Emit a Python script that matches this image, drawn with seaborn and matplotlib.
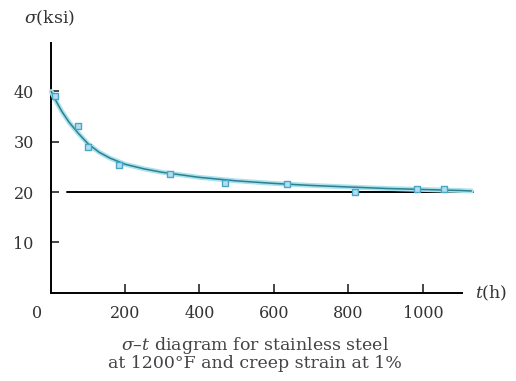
import matplotlib
matplotlib.use("Agg")
import matplotlib.pyplot as plt
import numpy as np
import pandas as pd
import seaborn as sns

# measured points (hours, ksi)
T_DATA = [12, 74, 101, 184, 321, 468, 635, 817, 984, 1056]
S_DATA = [39.0, 33.1, 28.9, 25.3, 23.6, 21.8, 21.6, 20.0, 20.6, 20.6]

# fitted curve
T_CURVE = [2, 15, 30, 50, 75, 100, 130, 160, 200, 250, 300, 400, 500, 600,
           700, 800, 900, 1000, 1100, 1130]
S_CURVE = [39.9, 38.0, 36.0, 33.8, 31.6, 29.6, 27.9, 26.7, 25.5, 24.6, 23.9,
           22.9, 22.2, 21.7, 21.3, 21.0, 20.7, 20.5, 20.3, 20.2]

ASYMPTOTE = 20
X_TICKS = [200, 400, 600, 800, 1000]
Y_TICKS = [10, 20, 30, 40]

sns.set_style("white")
plt.rcParams["font.family"] = ["DejaVu Serif"]
plt.rcParams["mathtext.fontset"] = "dejavuserif"

fig = plt.figure(figsize=(5.16, 3.81), dpi=100)
ax = fig.add_axes([0.0979, 0.231, 0.7975, 0.656])

curve = pd.DataFrame({"t": T_CURVE, "s": S_CURVE})
pts = pd.DataFrame({"t": T_DATA, "s": S_DATA})

ax.plot([44, 1134], [ASYMPTOTE, ASYMPTOTE], color="black", lw=1.4,
        clip_on=False, zorder=2)
sns.lineplot(data=curve, x="t", y="s", ax=ax, color="#a8e2ef", lw=3.5,
             clip_on=False, zorder=3)
sns.lineplot(data=curve, x="t", y="s", ax=ax, color="#2f7f8c", lw=1.1,
             clip_on=False, zorder=4)
sns.scatterplot(data=pts, x="t", y="s", ax=ax, marker="s", s=20,
                color="#b3def0", edgecolor="#4aa6c6", linewidth=1.0,
                clip_on=False, zorder=5)

ax.set_xlim(0, 1105)
ax.set_ylim(0, 49.5)
for side in ("top", "right"):
    ax.spines[side].set_visible(False)
for side in ("left", "bottom"):
    ax.spines[side].set_color("black")
    ax.spines[side].set_linewidth(1.4)

ax.set_xticks(X_TICKS)
ax.set_yticks(Y_TICKS)
ax.tick_params(axis="x", direction="in", length=6.5, width=1.2, pad=9,
               labelsize=11.5, labelcolor="#333333", bottom=True)
ax.tick_params(axis="y", direction="in", length=6, width=1.2, pad=12,
               labelsize=11.5, labelcolor="#333333", left=True)
ax.set_xlabel("")
ax.set_ylabel("")

ax.text(-35, -4.0, "0", ha="center", va="center", fontsize=11.5,
        color="#333333")
ax.text(1140, 0, r"$t$(h)", ha="left", va="center", fontsize=12.5,
        color="#333333")
fig.text(0.095, 0.952, r"$\sigma$(ksi)", ha="center", va="center",
         fontsize=12.5, color="#333333")

fig.text(0.494, 0.092, r"$\sigma$–$t$ diagram for stainless steel",
         ha="center", va="center", fontsize=12.5, color="#444444")
fig.text(0.494, 0.046, "at 1200°F and creep strain at 1%",
         ha="center", va="center", fontsize=12.5, color="#444444")

fig.savefig("out.png", dpi=100)
